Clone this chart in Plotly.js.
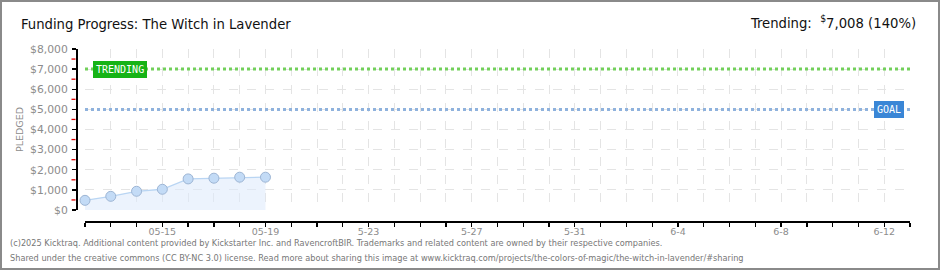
<!DOCTYPE html>
<html>
<head>
<meta charset="utf-8">
<script src="https://cdn.plot.ly/plotly-3.0.1.min.js"></script>
<style>
html,body{margin:0;padding:0;background:#fff;}
#wrap{position:relative;width:940px;height:270px;}
#chart{width:940px;height:270px;}
#frame{position:absolute;left:0;top:0;width:940px;height:270px;box-sizing:border-box;border:2px solid #8a8a8a;pointer-events:none;}
</style>
</head>
<body>
<div id="wrap"><div id="chart"></div><div id="frame"></div></div>
<script>
// ---- data ----
var dates = ["2025-05-12","2025-05-13","2025-05-14","2025-05-15","2025-05-16","2025-05-17","2025-05-18","2025-05-19"];
var pledged = [480, 680, 930, 1030, 1545, 1580, 1630, 1630];
var goal = 5000;
var trending = 7008;
var xStart = "2025-05-12";
var xEnd = "2025-06-13";
var tickDays = ["2025-05-12","2025-05-13","2025-05-14","2025-05-15","2025-05-16","2025-05-17","2025-05-18","2025-05-19","2025-05-20","2025-05-21","2025-05-22","2025-05-23","2025-05-24","2025-05-25","2025-05-26","2025-05-27","2025-05-28","2025-05-29","2025-05-30","2025-05-31","2025-06-01","2025-06-02","2025-06-03","2025-06-04","2025-06-05","2025-06-06","2025-06-07","2025-06-08","2025-06-09","2025-06-10","2025-06-11","2025-06-12","2025-06-13"];
var tickLabels = ["","","","05-15","","","","05-19","","","","5-23","","","","5-27","","","","5-31","","","","6-4","","","","6-8","","","","6-12",""];
var yMax = 8000;
var yStep = 1000;
var yMinorTicks = [500, 1500, 2500, 3500, 4500, 5500, 6500, 7500];
var titleText = "Funding Progress: The Witch in Lavender";
var trendText = "Trending:  <sup>$</sup>7,008 (140%)";
var footer1 = "(c)2025 Kicktraq. Additional content provided by Kickstarter Inc. and RavencroftBIR. Trademarks and related content are owned by their respective companies.";
var footer2 = "Shared under the creative commons (CC BY-NC 3.0) license. Read more about sharing this image at www.kicktraq.com/projects/the-colors-of-magic/the-witch-in-lavender/#sharing";

var W = 940, H = 270;
var ml = 76, mr = 30, mt = 49, mb = 49;
var pw = W - ml - mr, ph = H - mt - mb;
var yDomain = [(221 - 210) / ph, 1];
var tickFont = {family: "DejaVu Sans", size: 10.8, color: "#8c8c8c"};
var headFont = {family: "Liberation Sans Narrow, DejaVu Sans Condensed, sans-serif", size: 14.7, color: "#111"};
var footFont = {family: "Liberation Sans Narrow, DejaVu Sans Condensed, sans-serif", size: 9.1, color: "#777"};

var traces = [{
  x: dates, y: pledged, type: "scatter", mode: "lines+markers",
  fill: "tozeroy", fillcolor: "rgba(220,234,251,0.55)",
  line: {color: "#b9d5f3", width: 1.3},
  marker: {size: 10, color: "#c3dbf6", line: {color: "#9db5d4", width: 1}},
  cliponaxis: false,
  hoverinfo: "skip", showlegend: false
}];

var shapes = [
  {type: "line", xref: "x", yref: "y", x0: xStart, x1: xEnd, y0: trending, y1: trending,
   line: {color: "#72d05a", width: 3, dash: "dot"}},
  {type: "line", xref: "x", yref: "y", x0: xStart, x1: xEnd, y0: goal, y1: goal,
   line: {color: "#8fb2dd", width: 3, dash: "dot"}}
];
yMinorTicks.forEach(function (v) {
  shapes.push({type: "line", xref: "paper", yref: "y", x0: -4.5 / pw, x1: -0.5 / pw, y0: v, y1: v,
    layer: "above", line: {color: "#e00000", width: 1.3}});
});

var layout = {
  width: W, height: H,
  margin: {l: ml, r: mr, t: mt, b: mb, pad: 0},
  paper_bgcolor: "#fff", plot_bgcolor: "rgba(0,0,0,0)",
  showlegend: false,
  xaxis: {
    type: "date", range: [xStart, xEnd],
    domain: [(85 - ml) / pw, 1],
    anchor: "free", position: 0,
    tickmode: "array", tickvals: tickDays, ticktext: tickLabels,
    ticks: "outside", ticklen: 4, tickcolor: "#000", tickwidth: 1.3,
    ticklabelstandoff: -3,
    showline: true, linecolor: "#000", linewidth: 1.5,
    showgrid: true, gridcolor: "#e4e4e4", griddash: "dash", gridwidth: 1,
    zeroline: false, tickfont: {family: "DejaVu Sans", size: 9.5, color: "#8c8c8c"}, tickangle: 0, fixedrange: true
  },
  yaxis: {
    range: [0, yMax],
    domain: yDomain,
    anchor: "free", position: 0,
    tickmode: "linear", tick0: 0, dtick: yStep, tickprefix: "$", tickformat: ",d",
    ticks: "outside", ticklen: 4, tickcolor: "#000", tickwidth: 1.3,
    ticklabelstandoff: 2,
    showline: true, linecolor: "#000", linewidth: 1.5,
    showgrid: true, gridcolor: "#e4e4e4", griddash: "dash", gridwidth: 1,
    zeroline: false, tickfont: tickFont, fixedrange: true,
    title: {text: "PLEDGED", font: {family: "DejaVu Sans", size: 9.5, color: "#8c8c8c"}, standoff: 3}
  },
  shapes: shapes,
  annotations: [
    {text: titleText, xref: "paper", yref: "paper", x: (19 - ml) / pw, y: 1 + (mt - 24) / ph,
     xanchor: "left", yanchor: "middle", showarrow: false, font: headFont},
    {text: trendText, xref: "paper", yref: "paper", x: (918 - ml) / pw, y: 1 + (mt - 22) / ph,
     xanchor: "right", yanchor: "middle", showarrow: false, font: headFont},
    {text: "TRENDING", xref: "paper", yref: "y", x: (93 - ml) / pw, y: 7000,
     xanchor: "left", yanchor: "middle", showarrow: false,
     bgcolor: "#16b316", bordercolor: "#16b316", borderwidth: 1, borderpad: 2,
     font: {family: "DejaVu Sans Mono", size: 10, color: "#fff"}},
    {text: "GOAL", xref: "paper", yref: "y", x: (904 - ml) / pw, y: 5000,
     xanchor: "right", yanchor: "middle", showarrow: false,
     bgcolor: "#3a86d6", bordercolor: "#3a86d6", borderwidth: 1, borderpad: 2,
     font: {family: "DejaVu Sans Mono", size: 10, color: "#fff"}},
    {text: footer1, xref: "paper", yref: "paper", x: (8 - ml) / pw, y: -(243 - (H - mb)) / ph,
     xanchor: "left", yanchor: "middle", showarrow: false, font: footFont},
    {text: footer2, xref: "paper", yref: "paper", x: (8 - ml) / pw, y: -(258 - (H - mb)) / ph,
     xanchor: "left", yanchor: "middle", showarrow: false, font: footFont}
  ]
};

Plotly.newPlot("chart", traces, layout, {displayModeBar: false, staticPlot: true});
</script>
</body>
</html>
